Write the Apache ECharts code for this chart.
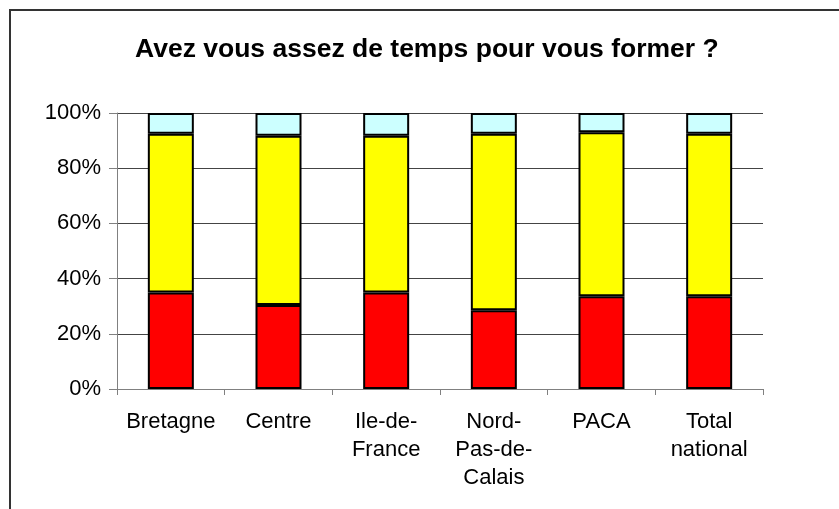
<!DOCTYPE html>
<html>
<head>
<meta charset="utf-8">
<script src="https://cdn.jsdelivr.net/npm/echarts@6/dist/echarts.min.js"></script>
<style>
  html, body { margin: 0; padding: 0; background: #fff; }
  #chart { width: 839px; height: 509px; }
</style>
</head>
<body>
<div id="chart"></div>
<script>
// Regions surveyed
var categories = ['Bretagne', 'Centre', 'Ile-de-\nFrance', 'Nord-\nPas-de-\nCalais', 'PACA', 'Total\nnational'];
// Share of answers per region (percent, stacked to 100)
var serieRouge = [35.0, 30.4, 35.0, 28.5, 33.6, 33.6];
var serieJaune = [57.5, 61.4, 56.8, 64.0, 59.4, 58.9];
var serieCyan  = [7.5, 8.2, 8.2, 7.5, 7.0, 7.5];
var yTicks = { min: 0, max: 100, interval: 20 };

var FONT = 'Liberation Sans, Arial, sans-serif';

function barSeries(name, data, color) {
  return {
    name: name,
    type: 'bar',
    stack: 'total',
    barWidth: 46,
    data: data,
    itemStyle: { color: color, borderColor: '#000', borderWidth: 2 },
    emphasis: { disabled: true }
  };
}

var chart = echarts.init(document.getElementById('chart'), null, { renderer: 'canvas' });
chart.setOption({
  animation: false,
  backgroundColor: '#fff',
  graphic: [{
    type: 'rect',
    shape: { x: 10, y: 10, width: 900, height: 600 },
    style: { fill: null, stroke: '#333', lineWidth: 2 },
    silent: true
  }],
  title: {
    text: 'Avez vous assez de temps pour vous former ?',
    left: 130,
    top: 31,
    textStyle: { fontFamily: FONT, fontWeight: 'bold', fontSize: 26.5, color: '#000' }
  },
  grid: { left: 117, top: 113, width: 646, height: 276, containLabel: false },
  xAxis: {
    type: 'category',
    data: categories,
    axisLine: { lineStyle: { color: '#808080', width: 1 } },
    axisTick: { show: true, length: 6, lineStyle: { color: '#808080' } },
    axisLabel: {
      fontFamily: FONT, fontSize: 22, color: '#000', margin: 19,
      lineHeight: 28, interval: 0
    },
    splitLine: { show: false }
  },
  yAxis: {
    type: 'value',
    min: yTicks.min,
    max: yTicks.max,
    interval: yTicks.interval,
    axisLine: { show: true, lineStyle: { color: '#808080', width: 1 } },
    axisTick: { show: true, length: 8, lineStyle: { color: '#808080' } },
    axisLabel: {
      fontFamily: FONT, fontSize: 22, color: '#000', margin: 16,
      formatter: '{value}%'
    },
    splitLine: { show: true, lineStyle: { color: '#444', width: 1 } }
  },
  series: [
    barSeries('Rouge', serieRouge, '#FF0000'),
    barSeries('Jaune', serieJaune, '#FFFF00'),
    barSeries('Cyan', serieCyan, '#CCFFFF')
  ]
});
</script>
</body>
</html>
